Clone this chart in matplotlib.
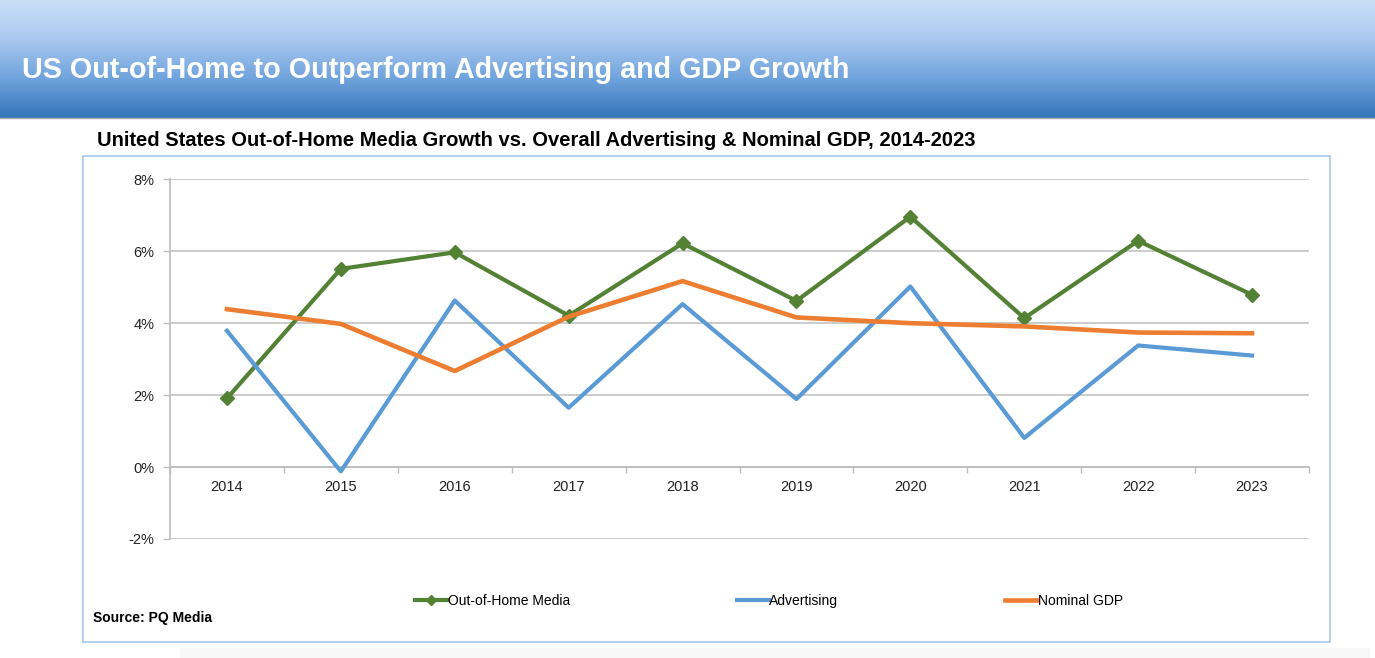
import numpy as np
import matplotlib
matplotlib.use("Agg")
import matplotlib.pyplot as plt
from matplotlib.colors import LinearSegmentedColormap
from matplotlib.patches import Rectangle
from matplotlib.lines import Line2D

plt.rcParams['font.family'] = ['Liberation Sans', 'DejaVu Sans']

# Data (growth in %)
years = ['2014', '2015', '2016', '2017', '2018', '2019', '2020', '2021', '2022', '2023']
ooh_media = [1.91, 5.51, 5.97, 4.21, 6.22, 4.62, 6.96, 4.14, 6.29, 4.79]
advertising = [3.79, -0.12, 4.63, 1.65, 4.53, 1.89, 5.02, 0.81, 3.38, 3.10]
nominal_gdp = [4.39, 3.98, 2.67, 4.18, 5.17, 4.16, 4.00, 3.91, 3.74, 3.72]
y_ticks = [-2, 0, 2, 4, 6, 8]

W, H = 1375, 658
fig = plt.figure(figsize=(W / 100, H / 100), dpi=100)
fig.patch.set_facecolor('white')

# Header band with gradient
hdr_h = 118
ax_hdr = fig.add_axes([0, 1 - hdr_h / H, 1, hdr_h / H])
cmap = LinearSegmentedColormap.from_list('hdr', ['#cbe0f9', '#a9c8ef', '#6fa3dc', '#3574ba'])
grad = np.linspace(0, 1, 256).reshape(-1, 1)
ax_hdr.imshow(grad, aspect='auto', cmap=cmap, extent=[0, 1, 0, 1], origin='upper')
ax_hdr.set_axis_off()
ax_hdr.text(22 / W, 0.41, 'US Out-of-Home to Outperform Advertising and GDP Growth',
            transform=ax_hdr.transAxes, color='white', fontsize=20.7, fontweight='bold',
            va='center', ha='left')
fig.add_artist(Line2D([0, 1], [1 - hdr_h / H, 1 - hdr_h / H], color='#a8a8a8', lw=1))

# Subtitle
fig.text(97 / W, 1 - 140 / H,
         'United States Out-of-Home Media Growth vs. Overall Advertising & Nominal GDP, 2014-2023',
         fontsize=14.5, fontweight='bold', color='black', va='center', ha='left')

# Chart box
fig.add_artist(Rectangle((83 / W, 1 - 642 / H), (1330 - 83) / W, (642 - 156) / H,
                         transform=fig.transFigure, fill=False, edgecolor='#a9c7ee', lw=1.2))
# faint shadow under the box
fig.add_artist(Rectangle((180 / W, 0), (1370 - 180) / W, 10 / H,
                         transform=fig.transFigure, facecolor='#f8f8f8', edgecolor='none'))

# Plot area
left, right, top, bottom = 170, 1309, 179.3, 539
ax = fig.add_axes([left / W, 1 - bottom / H, (right - left) / W, (bottom - top) / H])
x = np.arange(len(years))

ax.plot(x, ooh_media, color='#548235', lw=3.0, marker='D', ms=7, label='Out-of-Home Media', zorder=3)
ax.plot(x, advertising, color='#5b9bd5', lw=3.0, label='Advertising', zorder=3)
ax.plot(x, nominal_gdp, color='#ed7d31', lw=3.3, label='Nominal GDP', zorder=3)

ax.set_xlim(-0.5, len(years) - 0.5)
ax.set_ylim(-2, 8)
ax.set_yticks(y_ticks)
ax.set_yticklabels([f'{v}%' for v in y_ticks])
ax.yaxis.grid(True, color='#c3c3c3', lw=1.2)
ax.set_axisbelow(True)

ax.set_xticks(x)
ax.set_xticklabels(years)
ax.set_xticks(np.arange(-0.5, len(years)), minor=True)
ax.tick_params(axis='x', which='major', length=0, pad=9, labelsize=10.5, labelcolor='#222222')
ax.tick_params(axis='x', which='minor', length=4, color='#bdbdbd', width=1)
ax.tick_params(axis='y', length=5, color='#bdbdbd', width=1, pad=6, labelsize=10.5,
               labelcolor='#222222')

ax.spines['bottom'].set_position(('data', 0))
ax.spines['bottom'].set_color('#bdbdbd')
ax.spines['bottom'].set_linewidth(1.2)
ax.spines['left'].set_color('#bdbdbd')
ax.spines['left'].set_linewidth(1.2)
ax.spines['top'].set_visible(False)
ax.spines['right'].set_visible(False)

# Legend
fig.legend(loc='center left', bbox_to_anchor=(415 / W, 1 - 601 / H), ncol=3,
           frameon=False, fontsize=10, handlelength=2.3, handletextpad=0.05,
           columnspacing=12.0, borderpad=0, borderaxespad=0, markerscale=0.8)

# Source note
fig.text(93 / W, 1 - 618 / H, 'Source: PQ Media', fontsize=10, fontweight='bold',
         va='center', ha='left')

fig.savefig('out.png', dpi=100)
